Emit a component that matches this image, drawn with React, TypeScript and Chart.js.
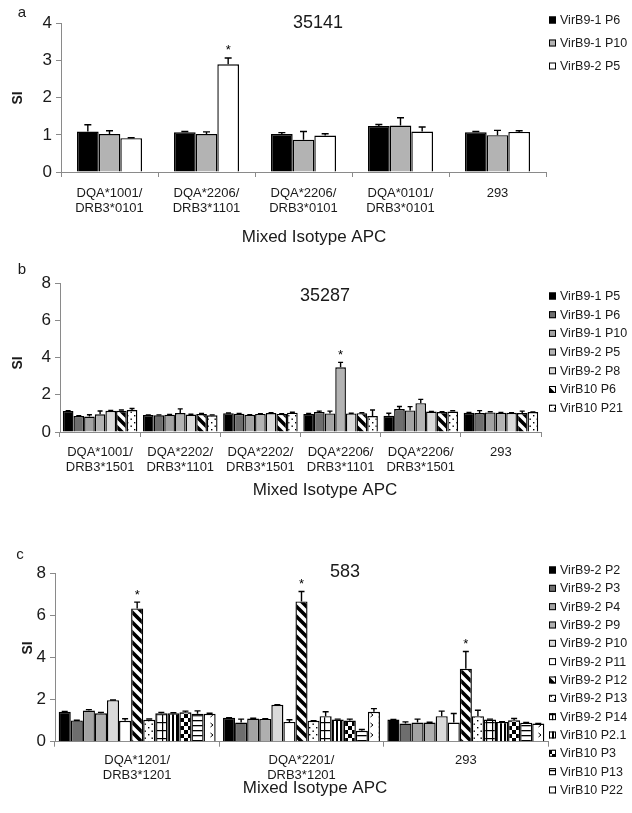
import React, { useEffect, useRef } from 'react';
import { Chart, registerables } from 'chart.js';

Chart.register(...registerables);

const FONT = '"Liberation Sans", Arial, Helvetica, sans-serif';

// ---------------- Panel a : 35141 ----------------
const aCategories = [
  ['DQA*1001/', 'DRB3*0101'],
  ['DQA*2206/', 'DRB3*1101'],
  ['DQA*2206/', 'DRB3*0101'],
  ['DQA*0101/', 'DRB3*0101'],
  ['293'],
];
const aSeries = ['VirB9-1 P6', 'VirB9-1 P10', 'VirB9-2 P5'];
const aMeans = [
  [1.09, 1.07, 1.02, 1.24, 1.07],
  [1.02, 1.02, 0.87, 1.25, 0.99],
  [0.91, 2.9, 0.98, 1.09, 1.08],
];
const aErrors = [
  [0.18, 0.02, 0.04, 0.04, 0.02],
  [0.09, 0.06, 0.22, 0.21, 0.13],
  [0.01, 0.17, 0.05, 0.12, 0.03],
];
const aStars = [[2, 1]]; // [series index, category index]
const aFills = ['#000000', '#b3b3b3', '#ffffff'];

// ---------------- Panel b : 35287 ----------------
const bCategories = [
  ['DQA*1001/', 'DRB3*1501'],
  ['DQA*2202/', 'DRB3*1101'],
  ['DQA*2202/', 'DRB3*1501'],
  ['DQA*2206/', 'DRB3*1101'],
  ['DQA*2206/', 'DRB3*1501'],
  ['293'],
];
const bSeries = ['VirB9-1 P5', 'VirB9-1 P6', 'VirB9-1 P10', 'VirB9-2 P5', 'VirB9-2 P8', 'VirB10 P6', 'VirB10 P21'];
const bMeans = [
  [1.13, 0.91, 1.01, 0.97, 0.87, 1.03],
  [0.86, 0.9, 0.98, 1.08, 1.23, 1.02],
  [0.83, 0.93, 0.92, 1.0, 1.16, 1.05],
  [0.95, 1.02, 0.97, 3.47, 1.55, 1.03],
  [1.14, 0.94, 1.02, 1.0, 1.1, 1.03],
  [1.14, 0.96, 0.97, 1.01, 1.07, 1.02],
  [1.18, 0.9, 1.04, 0.86, 1.1, 1.07],
];
const bErrors = [
  [0.02, 0.01, 0.01, 0.02, 0.14, 0.02],
  [0.02, 0.02, 0.01, 0.04, 0.14, 0.13],
  [0.1, 0.01, 0.01, 0.12, 0.2, 0.04],
  [0.18, 0.22, 0.01, 0.27, 0.2, 0.02],
  [0.02, 0.01, 0.02, 0.01, 0.01, 0.01],
  [0.04, 0.04, 0.01, 0.02, 0.02, 0.1],
  [0.08, 0.02, 0.02, 0.32, 0.04, 0.01],
];
const bStars = [[3, 3]];
const bFills = ['#000000', '#6e6e6e', '#a3a3a3', '#b3b3b3', '#dadada', 'diag', 'dots'];

// ---------------- Panel c : 583 ----------------
const cCategories = [
  ['DQA*1201/', 'DRB3*1201'],
  ['DQA*2201/', 'DRB3*1201'],
  ['293'],
];
const cSeries = [
  'VirB9-2 P2', 'VirB9-2 P3', 'VirB9-2 P4', 'VirB9-2 P9', 'VirB9-2 P10', 'VirB9-2 P11', 'VirB9-2 P12',
  'VirB9-2 P13', 'VirB9-2 P14', 'VirB10 P2.1', 'VirB10 P3', 'VirB10 P13', 'VirB10 P22',
];
const cMeans = [
  [1.42, 1.13, 1.05],
  [1.01, 0.91, 0.86],
  [1.48, 1.1, 0.91],
  [1.35, 1.08, 0.91],
  [1.97, 1.75, 1.21],
  [0.99, 0.94, 0.91],
  [6.32, 6.65, 3.46],
  [1.04, 0.99, 1.21],
  [1.35, 1.21, 1.05],
  [1.35, 1.05, 0.94],
  [1.4, 1.0, 1.02],
  [1.32, 0.52, 0.9],
  [1.32, 1.42, 0.86],
];
const cErrors = [
  [0.01, 0.01, 0.01],
  [0.01, 0.16, 0.08],
  [0.04, 0.01, 0.16],
  [0.04, 0.01, 0.01],
  [0.01, 0.01, 0.24],
  [0.1, 0.1, 0.43],
  [0.3, 0.47, 0.82],
  [0.04, 0.01, 0.28],
  [0.04, 0.21, 0.02],
  [0.02, 0.02, 0.01],
  [0.05, 0.07, 0.08],
  [0.14, 0.06, 0.01],
  [0.03, 0.15, 0.01],
];
const cStars = [[6, 0], [6, 1], [6, 2]];
const cFills = ['#000000', '#6e6e6e', '#a3a3a3', '#afafaf', '#dadada', '#ffffff', 'diag', 'dots', 'grid', 'vstripe', 'checker', 'hline', 'chevron'];

const xAxisTitle = 'Mixed Isotype APC';
const yAxisTitle = 'SI';

type Panel = {
  letter: string;
  title: string;
  height: number;
  categories: string[][];
  series: string[];
  means: number[][];
  errors: number[][];
  stars: number[][];
  fills: string[];
  yMax: number;
  yStep: number;
  plot: { left: number; right: number; top: number; bottom: number };
  catPct: number;
  tickPad: number;
  cap: number;
  letterPos: [number, number];
  titlePos: [number, number];
  xTitlePos: [number, number];
  siPos: [number, number];
  legendY0: number;
  legendDy: number;
};

const panels: Panel[] = [
  {
    letter: 'a', title: '35141', height: 260,
    categories: aCategories, series: aSeries, means: aMeans, errors: aErrors, stars: aStars, fills: aFills,
    yMax: 4, yStep: 1,
    plot: { left: 61, right: 546, top: 23.4, bottom: 172 },
    catPct: 0.67, tickPad: 8.5, cap: 7,
    letterPos: [22, 13], titlePos: [318, 23], xTitlePos: [314, 237], siPos: [18, 98],
    legendY0: 20, legendDy: 23,
  },
  {
    letter: 'b', title: '35287', height: 250,
    categories: bCategories, series: bSeries, means: bMeans, errors: bErrors, stars: bStars, fills: bFills,
    yMax: 8, yStep: 2,
    plot: { left: 60, right: 541, top: 23, bottom: 172 },
    catPct: 0.93, tickPad: 7.5, cap: 5,
    letterPos: [22, 10], titlePos: [325, 36], xTitlePos: [325, 230], siPos: [18, 103],
    legendY0: 36, legendDy: 18.7,
  },
  {
    letter: 'c', title: '583', height: 283,
    categories: cCategories, series: cSeries, means: cMeans, errors: cErrors, stars: cStars, fills: cFills,
    yMax: 8, yStep: 2,
    plot: { left: 55, right: 548, top: 43, bottom: 211.7 },
    catPct: 0.955, tickPad: 6, cap: 6,
    letterPos: [20, 25], titlePos: [345, 42], xTitlePos: [315, 258], siPos: [28, 118],
    legendY0: 40, legendDy: 18.33,
  },
];
const panelTops = [0, 260, 530];

function makeTile(w: number, h: number, draw: (g: CanvasRenderingContext2D) => void): CanvasPattern {
  const c = document.createElement('canvas');
  c.width = w;
  c.height = h;
  const g = c.getContext('2d') as CanvasRenderingContext2D;
  g.fillStyle = '#ffffff';
  g.fillRect(0, 0, w, h);
  g.fillStyle = '#000000';
  g.strokeStyle = '#000000';
  draw(g);
  return g.createPattern(c, 'repeat') as CanvasPattern;
}

function makePatterns(): Record<string, CanvasPattern> {
  return {
    diag: makeTile(10, 10, (g) => {
      g.lineWidth = 3.6;
      g.beginPath();
      for (const k of [-1, 0, 1]) {
        g.moveTo(k * 10 - 3, -3);
        g.lineTo(k * 10 + 13, 13);
      }
      g.stroke();
    }),
    dots: makeTile(7, 7, (g) => {
      g.fillRect(1, 1, 1.4, 1.4);
      g.fillRect(4.5, 4.5, 1.4, 1.4);
    }),
    grid: makeTile(6, 8, (g) => {
      g.fillRect(0, 0, 6, 1.2);
      g.fillRect(0, 0, 1.2, 8);
    }),
    vstripe: makeTile(4, 4, (g) => {
      g.fillRect(0, 0, 2, 4);
    }),
    checker: makeTile(8, 8, (g) => {
      g.fillRect(0, 0, 4, 4);
      g.fillRect(4, 4, 4, 4);
    }),
    hline: makeTile(4, 5, (g) => {
      g.fillRect(0, 0, 4, 1.3);
    }),
    chevron: makeTile(8, 10, (g) => {
      g.lineWidth = 1;
      g.beginPath();
      g.moveTo(2.5, 3);
      g.lineTo(5, 5);
      g.lineTo(2.5, 7);
      g.stroke();
    }),
  };
}

function resolveFill(f: string, pats: Record<string, CanvasPattern>): string | CanvasPattern {
  return pats[f] ? pats[f] : f;
}

function overlayPlugin(p: Panel, pats: Record<string, CanvasPattern>) {
  return {
    id: 'overlay' + p.letter,
    afterDatasetsDraw(chart: any) {
      const ctx: CanvasRenderingContext2D = chart.ctx;
      const ys = chart.scales.y;
      ctx.save();
      ctx.strokeStyle = '#000';
      ctx.lineWidth = 1.4;
      chart.data.datasets.forEach((_ds: any, i: number) => {
        const meta = chart.getDatasetMeta(i);
        meta.data.forEach((bar: any, j: number) => {
          const v = p.means[i][j];
          const e = p.errors[i][j];
          const y0 = ys.getPixelForValue(v);
          const y1 = ys.getPixelForValue(v + e);
          const x = bar.x;
          ctx.beginPath();
          ctx.moveTo(x, y0);
          ctx.lineTo(x, y1);
          ctx.moveTo(x - p.cap / 2, y1);
          ctx.lineTo(x + p.cap / 2, y1);
          ctx.stroke();
        });
      });
      ctx.fillStyle = '#000';
      ctx.font = `13px ${FONT}`;
      ctx.textAlign = 'center';
      ctx.textBaseline = 'alphabetic';
      p.stars.forEach(([i, j]) => {
        const bar: any = chart.getDatasetMeta(i).data[j];
        const y1 = ys.getPixelForValue(p.means[i][j] + p.errors[i][j]);
        ctx.fillText('*', bar.x, y1 - 3.5);
      });
      ctx.restore();
    },
    afterDraw(chart: any) {
      const ctx: CanvasRenderingContext2D = chart.ctx;
      ctx.save();
      ctx.fillStyle = '#1a1a1a';
      ctx.textAlign = 'center';
      ctx.textBaseline = 'middle';
      // panel letter
      ctx.font = `15px ${FONT}`;
      ctx.fillText(p.letter, p.letterPos[0], p.letterPos[1]);
      // chart title
      ctx.font = `18px ${FONT}`;
      ctx.fillText(p.title, p.titlePos[0], p.titlePos[1]);
      // x axis title
      ctx.font = `17px ${FONT}`;
      ctx.fillText(xAxisTitle, p.xTitlePos[0], p.xTitlePos[1]);
      // y axis title
      ctx.save();
      ctx.translate(p.siPos[0], p.siPos[1]);
      ctx.rotate(-Math.PI / 2);
      ctx.font = `bold 14px ${FONT}`;
      ctx.fillText(yAxisTitle, 0, 0);
      ctx.restore();
      // legend
      ctx.font = `12.5px ${FONT}`;
      ctx.textAlign = 'left';
      p.series.forEach((name, i) => {
        const y = p.legendY0 + i * p.legendDy;
        ctx.fillStyle = resolveFill(p.fills[i], pats) as any;
        ctx.fillRect(549, y - 3.5, 7, 7);
        ctx.strokeStyle = '#000';
        ctx.lineWidth = 1;
        ctx.strokeRect(549.5, y - 3, 6, 6);
        ctx.fillStyle = '#1a1a1a';
        ctx.fillText(name, 560, y + 0.5);
      });
      ctx.restore();
    },
  };
}

function buildChart(canvas: HTMLCanvasElement, p: Panel, pats: Record<string, CanvasPattern>) {
  const W = 632;
  return new Chart(canvas, {
    type: 'bar',
    data: {
      labels: p.categories as any,
      datasets: p.series.map((name, i) => ({
        label: name,
        data: p.means[i],
        backgroundColor: resolveFill(p.fills[i], pats) as any,
        borderColor: '#000000',
        borderWidth: 1.4,
        categoryPercentage: p.catPct,
        barPercentage: 1,
      })),
    },
    options: {
      responsive: false,
      animation: false,
      devicePixelRatio: 1,
      layout: { padding: { left: 0, right: W - p.plot.right, top: p.plot.top, bottom: 0 } },
      plugins: {
        legend: { display: false },
        tooltip: { enabled: false },
        title: { display: false },
      },
      scales: {
        x: {
          grid: { display: true, drawOnChartArea: false, drawTicks: true, tickLength: 5, color: '#8a8a8a', offset: true },
          border: { display: true, color: '#8a8a8a', width: 1 },
          ticks: {
            color: '#1a1a1a',
            font: { family: FONT, size: 13, lineHeight: 1.15 },
            padding: p.tickPad,
            autoSkip: false,
            maxRotation: 0,
            minRotation: 0,
          },
          afterFit: (s: any) => {
            s.height = p.height - p.plot.bottom;
          },
        },
        y: {
          min: 0,
          max: p.yMax,
          grid: { display: true, drawOnChartArea: false, drawTicks: true, tickLength: 5, color: '#8a8a8a' },
          border: { display: true, color: '#8a8a8a', width: 1 },
          ticks: {
            stepSize: p.yStep,
            color: '#1a1a1a',
            font: { family: FONT, size: 17 },
            padding: 4,
          },
          afterFit: (s: any) => {
            s.width = p.plot.left;
          },
        },
      },
    } as any,
    plugins: [overlayPlugin(p, pats) as any],
  });
}

export default function App() {
  const refA = useRef<HTMLCanvasElement>(null);
  const refB = useRef<HTMLCanvasElement>(null);
  const refC = useRef<HTMLCanvasElement>(null);

  useEffect(() => {
    const pats = makePatterns();
    const refs = [refA, refB, refC];
    const charts = refs.map((r, i) => buildChart(r.current as HTMLCanvasElement, panels[i], pats));
    return () => charts.forEach((c) => c.destroy());
  }, []);

  const refs = [refA, refB, refC];
  return (
    <div style={{ position: 'absolute', left: 0, top: 0, width: 632, height: 813, background: '#ffffff' }}>
      {panels.map((p, i) => (
        <canvas
          key={p.letter}
          ref={refs[i]}
          width={632}
          height={p.height}
          style={{ position: 'absolute', left: 0, top: panelTops[i], width: 632, height: p.height }}
        />
      ))}
    </div>
  );
}
